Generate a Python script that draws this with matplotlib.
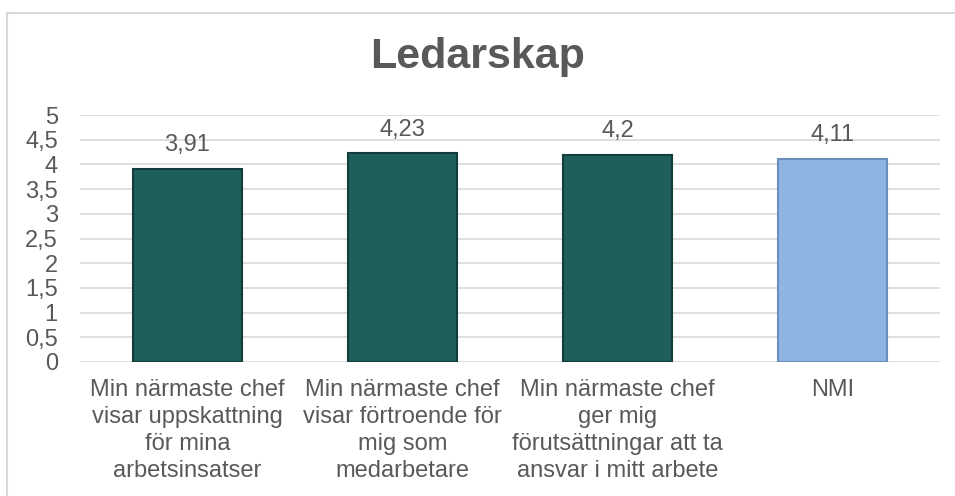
import matplotlib.pyplot as plt
from matplotlib.patches import Rectangle

plt.rcParams['font.family'] = ['Liberation Sans', 'DejaVu Sans']

title = 'Ledarskap'
categories = [
    'Min närmaste chef\nvisar uppskattning\nför mina\narbetsinsatser',
    'Min närmaste chef\nvisar förtroende för\nmig som\nmedarbetare',
    'Min närmaste chef\nger mig\nförutsättningar att ta\nansvar i mitt arbete',
    'NMI',
]
values = [3.91, 4.23, 4.2, 4.11]
value_labels = ['3,91', '4,23', '4,2', '4,11']
yticks = [0, 0.5, 1, 1.5, 2, 2.5, 3, 3.5, 4, 4.5, 5]

text_color = '#595959'
face_colors = ['#1f5f5b', '#1f5f5b', '#1f5f5b', '#8db4e3']
edge_colors = ['#123d3a', '#123d3a', '#123d3a', '#6a8fbd']

fig = plt.figure(figsize=(9.55, 4.96), dpi=100)

# outer chart border (runs off the right and bottom edges)
fig.patches.append(Rectangle((7 / 955, -0.05), 1.0, 1 - 13 / 496 + 0.05,
                             transform=fig.transFigure, fill=False,
                             edgecolor='#d9d9d9', linewidth=1.5))

ax = fig.add_axes([80 / 955, 1 - 362 / 496, 860 / 955, 247 / 496])

x = range(len(categories))
ax.bar(x, values, width=0.51, color=face_colors, edgecolor=edge_colors,
       linewidth=1.5, zorder=3)

for xi, v, lab in zip(x, values, value_labels):
    ax.annotate(lab, (xi, v), xytext=(0, 9), textcoords='offset points',
                ha='center', va='bottom', fontsize=17, color=text_color)

ax.set_xlim(-0.5, len(categories) - 0.5)
ax.set_ylim(0, 5)
ax.set_yticks(yticks)
ax.set_yticklabels([('%g' % t).replace('.', ',') for t in yticks])
ax.set_xticks(list(x))
ax.set_xticklabels(categories, linespacing=1.3)

ax.tick_params(axis='y', length=0, pad=16, labelsize=17, labelcolor=text_color)
ax.tick_params(axis='x', length=0, pad=12, labelsize=17, labelcolor=text_color)

ax.grid(axis='y', color='#d9d9d9', linewidth=1.2, zorder=0)
for s in ax.spines.values():
    s.set_visible(False)

fig.text(0.5, 1 - 57 / 496, title, ha='center', va='center',
         fontsize=31, fontweight='bold', color=text_color)

fig.savefig('out.png', dpi=100)
